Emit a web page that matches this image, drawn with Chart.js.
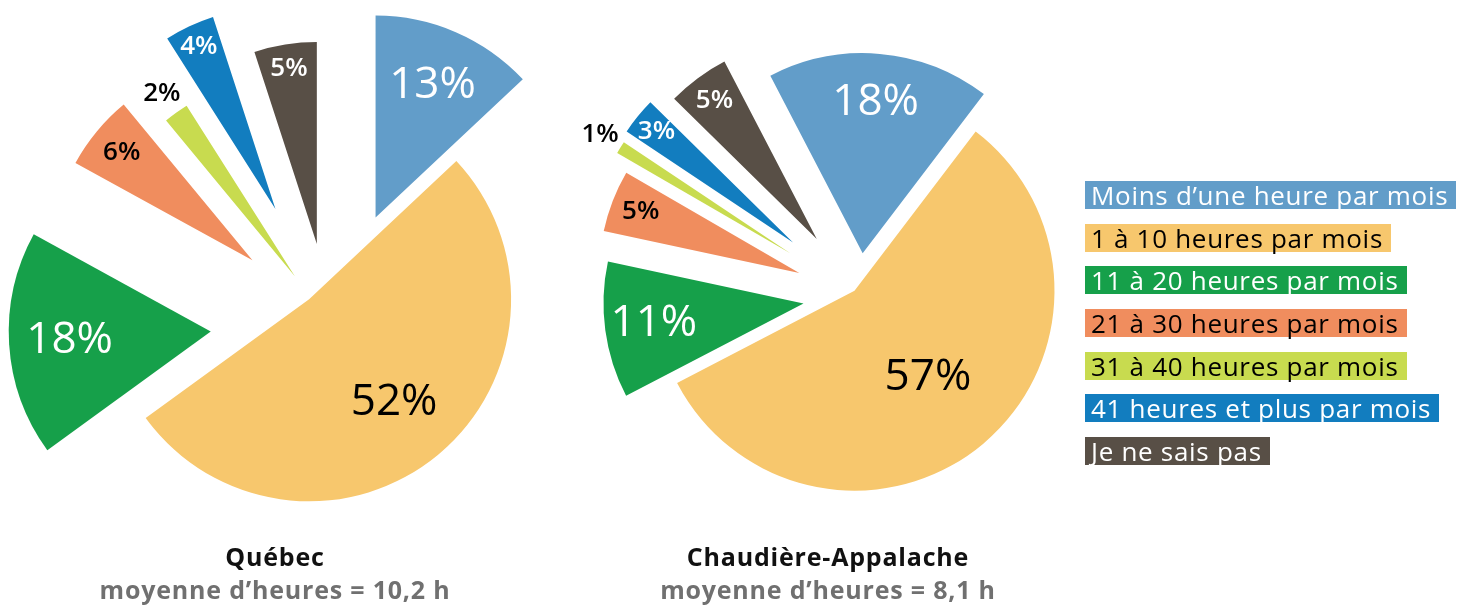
<!DOCTYPE html>
<html lang="fr">
<head>
<meta charset="utf-8">
<title>Heures par mois</title>
<script src="https://cdn.jsdelivr.net/npm/chart.js@4.4.1/dist/chart.umd.min.js"></script>
<style>
  html, body { margin: 0; padding: 0; background: #fff; }
  body { width: 1474px; height: 607px; position: relative; overflow: hidden; font-family: "Open Sans", sans-serif; }
  canvas { position: absolute; left: 0; top: 0; }
  .caption { position: absolute; top: 540px; width: 500px; text-align: center; font-weight: 700; font-size: 25px; letter-spacing: 0.8px; line-height: 33px; }
  .caption .region { color: #111; }
  .caption .avg { color: #707070; }
  #legend { position: absolute; left: 1085px; top: 181px; display: flex; flex-direction: column; align-items: flex-start; }
  #legend span { display: block; height: 28px; line-height: 28px; font-size: 26px; letter-spacing: 0.7px; padding: 0 8px 0 6px; margin-bottom: 14.7px; white-space: nowrap; }
</style>
</head>
<body>
<canvas id="quebecChart" width="1474" height="607"></canvas>
<canvas id="chaudiereChart" width="1474" height="607"></canvas>
<div class="caption" id="capQuebec" style="left:25px"></div>
<div class="caption" id="capChaudiere" style="left:578px"></div>
<div id="legend"></div>

<script>
// données
const categories = [
  'Moins d’une heure par mois',
  '1 à 10 heures par mois',
  '11 à 20 heures par mois',
  '21 à 30 heures par mois',
  '31 à 40 heures par mois',
  '41 heures et plus par mois',
  'Je ne sais pas'
];
const quebecValues = [13, 52, 18, 6, 2, 4, 5];
const chaudiereValues = [18, 57, 11, 5, 1, 3, 5];
const regions = ['Québec', 'Chaudière-Appalache'];
const averages = ['moyenne d’heures = 10,2 h', 'moyenne d’heures = 8,1 h'];

// couleurs
const colors = ['#629DC9', '#F7C76D', '#16A04A', '#F08D5E', '#C8DB4F', '#127DBF', '#584F46'];
const textColors = ['#fff', '#000', '#fff', '#000', '#000', '#fff', '#fff'];

// pousse chaque tranche vers l'extérieur le long de son angle médian
const explodePlugin = {
  id: 'explode',
  beforeDatasetsDraw(chart, args, opts) {
    const meta = chart.getDatasetMeta(0);
    const area = chart.chartArea;
    const cx = (area.left + area.right) / 2 + (meta.controller.offsetX || 0);
    const cy = (area.top + area.bottom) / 2 + (meta.controller.offsetY || 0);
    meta.data.forEach((arc, i) => {
      const mid = (arc.startAngle + arc.endAngle) / 2;
      const d = opts.distances[i] || 0;
      arc.x = cx + Math.cos(mid) * d;
      arc.y = cy + Math.sin(mid) * d;
    });
  }
};

// étiquettes de pourcentage
const sliceLabelPlugin = {
  id: 'sliceLabels',
  afterDatasetsDraw(chart, args, opts) {
    const ctx = chart.ctx;
    const meta = chart.getDatasetMeta(0);
    const values = chart.data.datasets[0].data;
    ctx.save();
    ctx.textAlign = 'center';
    ctx.textBaseline = 'middle';
    meta.data.forEach((arc, i) => {
      const mid = (arc.startAngle + arc.endAngle) / 2;
      const r = arc.outerRadius * opts.positions[i];
      ctx.font = values[i] >= 10 ? '500 44px "Open Sans"' : '600 26px "Open Sans"';
      ctx.fillStyle = opts.colors[i];
      ctx.fillText(values[i] + '%', arc.x + Math.cos(mid) * r, arc.y + Math.sin(mid) * r);
    });
    ctx.restore();
  }
};

function makePie(id, values, cfg) {
  return new Chart(document.getElementById(id), {
    type: 'pie',
    data: {
      labels: categories,
      datasets: [{
        data: values,
        backgroundColor: colors,
        borderWidth: 0,
        clip: false
      }]
    },
    options: {
      responsive: false,
      animation: false,
      radius: cfg.radius,
      rotation: cfg.rotation,
      layout: { padding: cfg.padding },
      plugins: {
        legend: { display: false },
        tooltip: { enabled: false },
        explode: { distances: cfg.explode },
        sliceLabels: { positions: cfg.labelPos, colors: textColors }
      }
    },
    plugins: [explodePlugin, sliceLabelPlugin]
  });
}

makePie('quebecChart', quebecValues, {
  radius: 202,
  rotation: 0,
  padding: { left: 0, right: 815, top: 41, bottom: 0 },
  explode: [116, -32, 119, 100, 59, 127, 81],
  labelPos: [0.71, 0.66, 0.70, 0.84, 1.12, 0.89, 0.88]
});

makePie('chaudiereChart', chaudiereValues, {
  radius: 200,
  rotation: -27.5,
  padding: { left: 259, right: 15, top: 0, bottom: 15 },
  explode: [43, -7, 56, 64, 81, 85, 71],
  labelPos: [0.755, 0.57, 0.755, 0.85, 1.12, 0.88, 0.86]
});

// légende
const legend = document.getElementById('legend');
categories.forEach((c, i) => {
  const item = document.createElement('span');
  item.textContent = c;
  item.style.background = colors[i];
  item.style.color = textColors[i];
  legend.appendChild(item);
});

// titres sous les graphiques
['capQuebec', 'capChaudiere'].forEach((id, i) => {
  const el = document.getElementById(id);
  el.innerHTML = '<div class="region"></div><div class="avg"></div>';
  el.querySelector('.region').textContent = regions[i];
  el.querySelector('.avg').textContent = averages[i];
});
</script>
</body>
</html>
